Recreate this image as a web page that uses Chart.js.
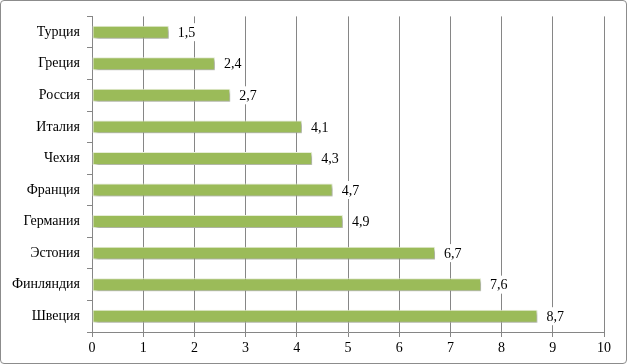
<!DOCTYPE html>
<html>
<head>
<meta charset="utf-8">
<script src="https://cdn.jsdelivr.net/npm/chart.js@4"></script>
<style>
  html, body { margin: 0; padding: 0; background: #fff; }
  #wrap {
    position: relative;
    width: 627px; height: 364px;
    box-sizing: border-box;
    border: 1px solid #8c8c8c;
    border-radius: 4px;
    overflow: hidden;
  }
  #chart { display: block; }
</style>
</head>
<body>
<div id="wrap"><canvas id="chart" width="625" height="362"></canvas></div>
<script>
// countries, top to bottom
const countries = ['Турция', 'Греция', 'Россия', 'Италия', 'Чехия', 'Франция', 'Германия', 'Эстония', 'Финляндия', 'Швеция'];
const values = [1.5, 2.4, 2.7, 4.1, 4.3, 4.7, 4.9, 6.7, 7.6, 8.7];
const xTicks = [0, 1, 2, 3, 4, 5, 6, 7, 8, 9, 10];

const FONT = '"Liberation Serif", "Times New Roman", serif';
const GRID = '#868686';

// soft shadow under bars, like the office chart
const barShadow = {
  id: 'barShadow',
  beforeDatasetDraw(chart) {
    const ctx = chart.ctx;
    ctx.save();
    ctx.shadowColor = 'rgba(0,0,0,0.35)';
    ctx.shadowBlur = 3;
    ctx.shadowOffsetX = 2;
    ctx.shadowOffsetY = 2;
  },
  afterDatasetDraw(chart) {
    chart.ctx.restore();
  },
};

// value labels with white box, decimal comma
const valueLabels = {
  id: 'valueLabels',
  afterDatasetsDraw(chart) {
    const ctx = chart.ctx;
    const meta = chart.getDatasetMeta(0);
    ctx.save();
    ctx.font = '14px ' + FONT;
    ctx.textBaseline = 'middle';
    meta.data.forEach((bar, i) => {
      const txt = String(values[i]).replace('.', ',');
      const w = ctx.measureText(txt).width;
      const x = bar.x + 9;
      ctx.fillStyle = '#fff';
      ctx.fillRect(x - 2, bar.y - 9, w + 4, 18);
      ctx.fillStyle = '#000';
      ctx.fillText(txt, x, bar.y + 1);
    });
    ctx.restore();
  },
};

new Chart(document.getElementById('chart'), {
  type: 'bar',
  data: {
    labels: countries,
    datasets: [{
      data: values,
      backgroundColor: '#9bbb59',
      borderColor: '#e8f0d8',
      borderWidth: 1,
      borderSkipped: false,
      barPercentage: 0.82,
      categoryPercentage: 0.5,
    }],
  },
  options: {
    indexAxis: 'y',
    responsive: false,
    animation: false,
    layout: { padding: { top: 13, right: 22, left: 0, bottom: 0 } },
    plugins: {
      legend: { display: false },
      tooltip: { enabled: false },
    },
    scales: {
      x: {
        min: 0,
        max: 10,
        afterBuildTicks(s) { s.ticks = xTicks.map(v => ({ value: v })); },
        afterFit(s) { s.height = 31; },
        grid: { color: GRID, lineWidth: 1, tickLength: 5, drawTicks: true },
        border: { color: GRID },
        ticks: { color: '#000', padding: 3, font: { family: FONT, size: 14 } },
      },
      y: {
        afterFit(s) { s.width = 91; },
        grid: { offset: true, drawOnChartArea: false, color: GRID, tickLength: 5 },
        border: { color: GRID },
        ticks: { color: '#000', padding: 7, font: { family: FONT, size: 14 } },
      },
    },
  },
  plugins: [barShadow, valueLabels],
});
</script>
</body>
</html>
